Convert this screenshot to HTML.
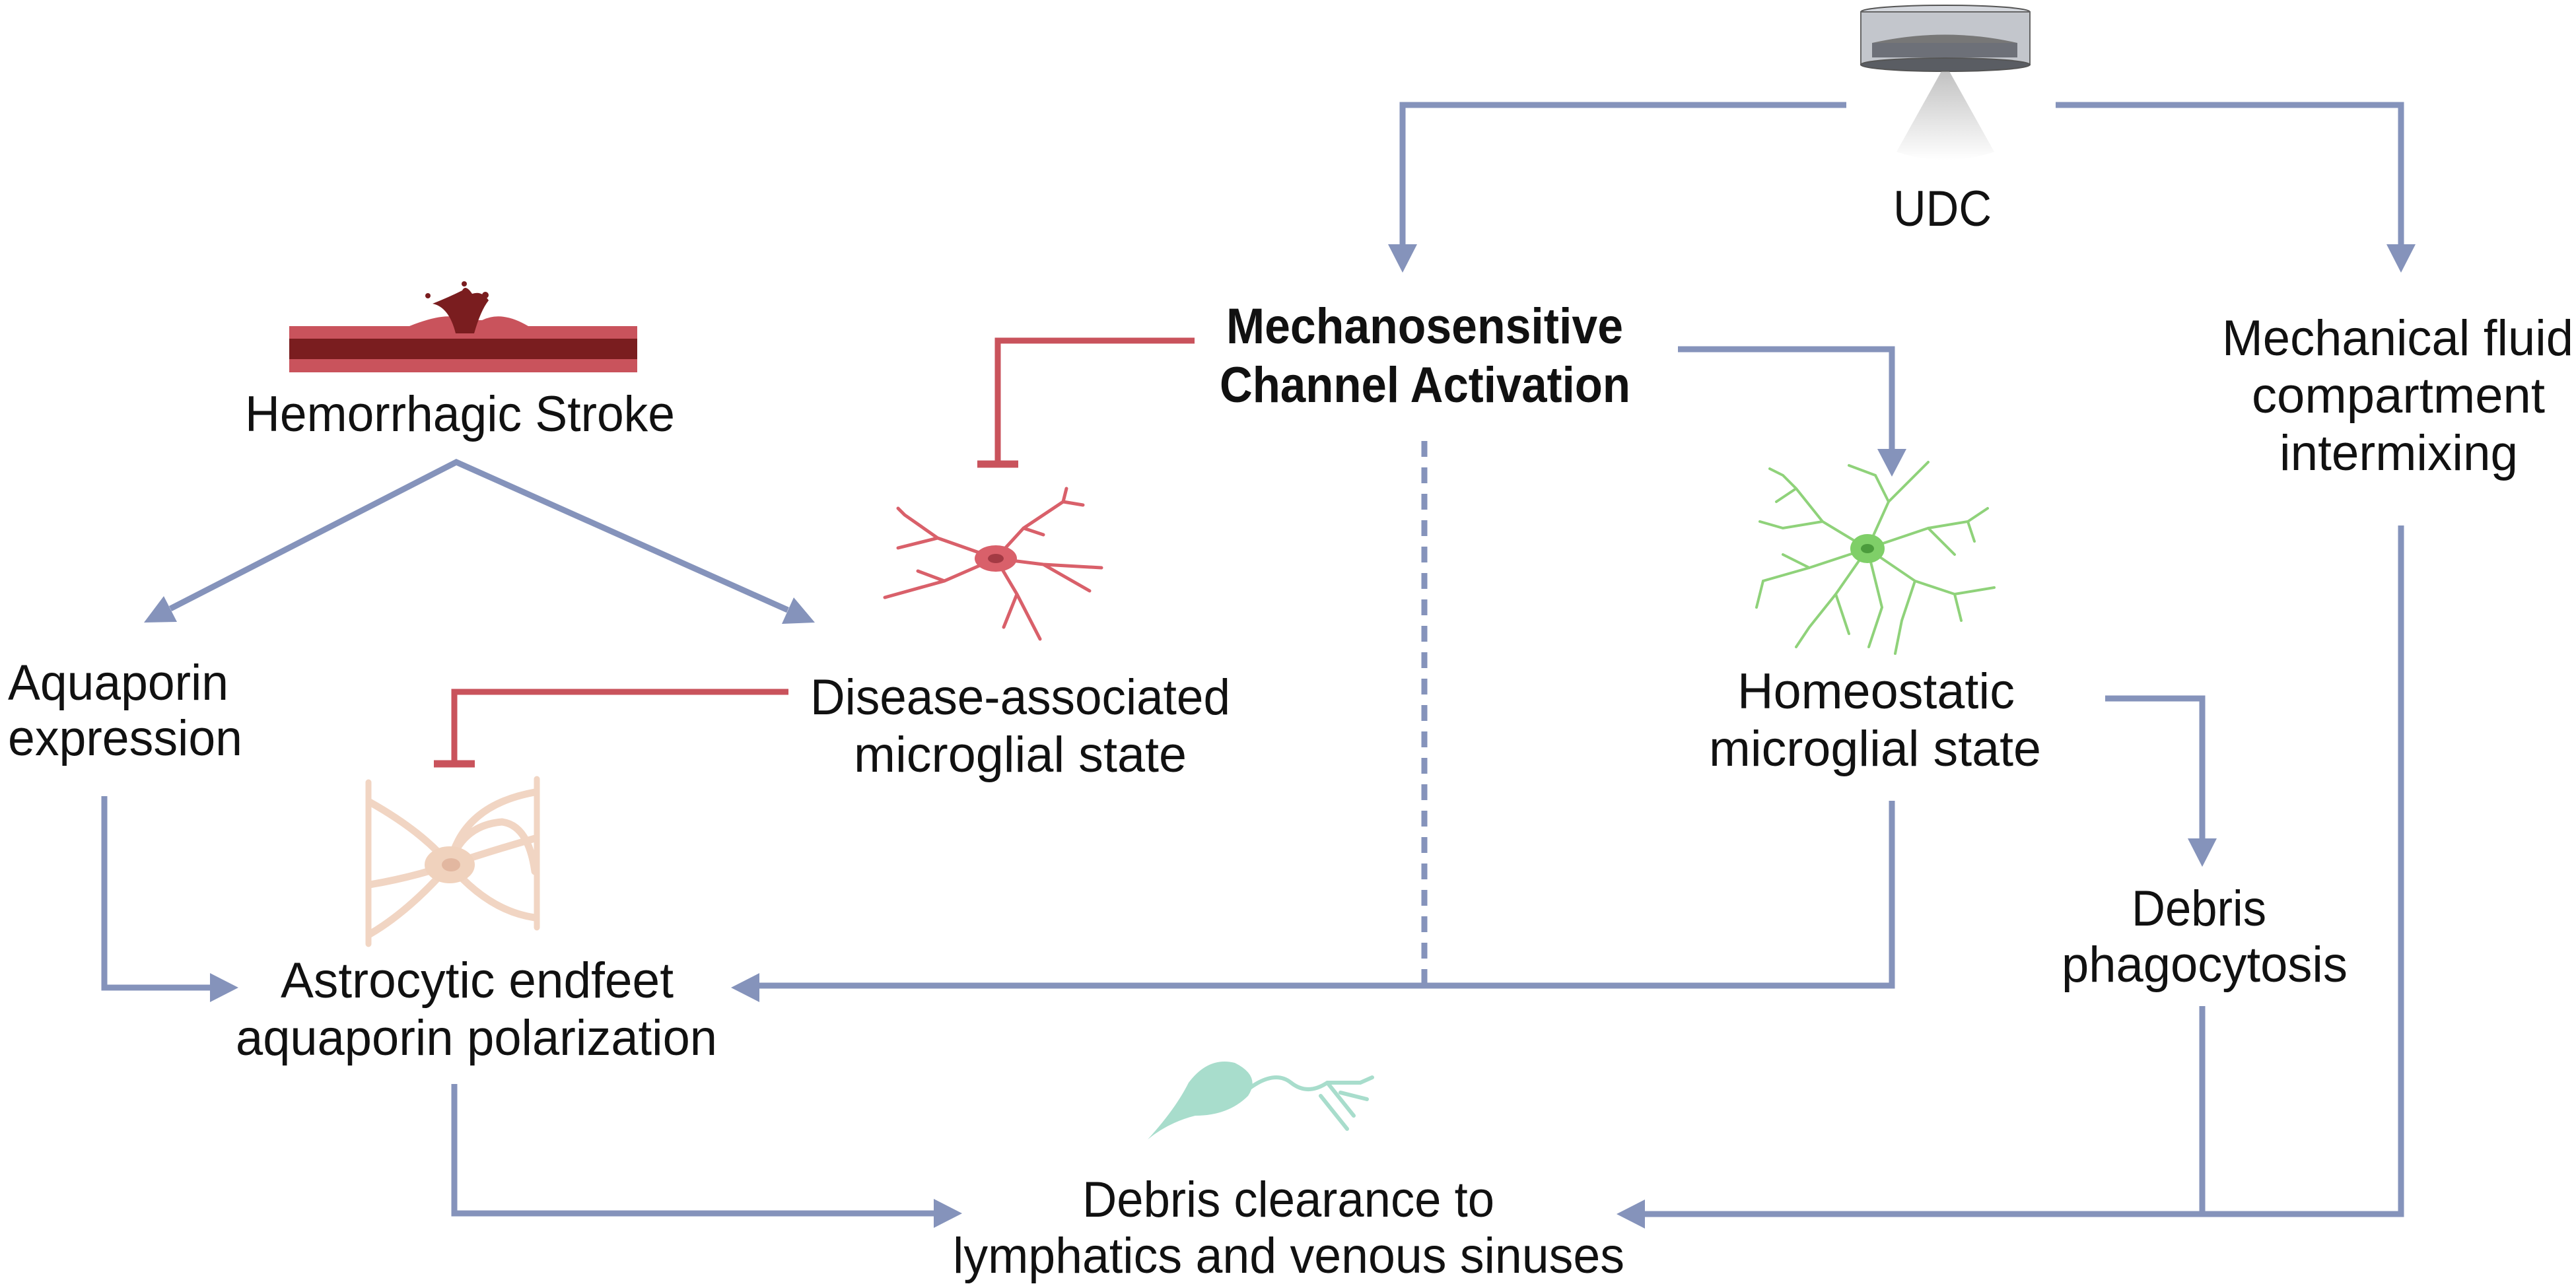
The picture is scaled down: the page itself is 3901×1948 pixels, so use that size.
<!DOCTYPE html>
<html><head><meta charset="utf-8"><style>
html,body{margin:0;padding:0;background:#fff}
svg{display:block}
text{font-family:"Liberation Sans",sans-serif;font-size:76px;fill:#111}
</style></head><body>
<svg width="3901" height="1948" viewBox="0 0 3901 1948" xmlns="http://www.w3.org/2000/svg">
<defs>
<linearGradient id="spray" x1="0" y1="0" x2="0" y2="1"><stop offset="0" stop-color="#999"/><stop offset="1" stop-color="#fff"/></linearGradient>
</defs>
<g fill="none" stroke="#8593bb" stroke-width="9">
<polyline points="258,922 691,700 1193,924"/>
<polyline points="2796,159 2124,159 2124,390"/>
<polyline points="3113,159 3636,159 3636,390"/>
<polyline points="2541,529 2865,529 2865,700"/>
<polyline points="2865,1213 2865,1493 1140,1493"/>
<line x1="2157" y1="668" x2="2157" y2="1493" stroke-dasharray="24,16"/>
<polyline points="3188,1058 3335,1058 3335,1290"/>
<line x1="3335" y1="1524" x2="3335" y2="1839"/>
<polyline points="3636,796 3636,1839 2480,1839"/>
<polyline points="158,1206 158,1496 330,1496"/>
<polyline points="688,1642 688,1838 1425,1838"/>
</g>
<g fill="#8593bb">
<polygon points="218,943 268,942 248,903"/>
<polygon points="1234,943 1184,945 1202,905"/>
<polygon points="2124,413 2102,370 2146,370"/>
<polygon points="3636,413 3614,370 3658,370"/>
<polygon points="2865,722 2843,680 2887,680"/>
<polygon points="3335,1313 3313,1270 3357,1270"/>
<polygon points="1107,1496 1150,1474 1150,1518"/>
<polygon points="361,1496 318,1474 318,1518"/>
<polygon points="1457,1838 1414,1816 1414,1860"/>
<polygon points="2448,1839 2491,1817 2491,1861"/>
</g>
<g fill="none" stroke="#c9535c" stroke-width="9">
<polyline points="1809,516 1511,516 1511,703"/>
<line x1="1480" y1="703" x2="1542" y2="703" stroke-width="11"/>
<polyline points="1194,1048 688,1048 688,1157"/>
<line x1="657" y1="1157" x2="719" y2="1157" stroke-width="11"/>
</g>
<rect x="438" y="494" width="527" height="70" fill="#c9535c"/>
<rect x="438" y="513" width="527" height="31" fill="#7a1d1f"/>
<path d="M620,494 Q680,470 700,485 L730,485 Q760,470 800,494 Z" fill="#c9535c"/>
<path d="M690,505 Q680,465 655,460 Q680,450 700,440 Q705,430 715,445 Q730,440 740,455 Q728,470 718,505 Z" fill="#7a1d1f"/>
<circle cx="703" cy="430" r="4" fill="#7a1d1f"/><circle cx="735" cy="447" r="5" fill="#7a1d1f"/><circle cx="648" cy="448" r="4" fill="#7a1d1f"/>
<ellipse cx="2946" cy="18" rx="128" ry="10" fill="#d5d8de" stroke="#555" stroke-width="2"/>
<rect x="2818" y="18" width="256" height="80" fill="#c3c6cc" stroke="#666" stroke-width="2"/>
<path d="M2835,65 Q2946,40 3055,65 Z" fill="#777"/>
<rect x="2835" y="65" width="220" height="22" fill="#6d7078"/>
<ellipse cx="2946" cy="98" rx="128" ry="10" fill="#5a5d63" stroke="#555" stroke-width="2"/>
<path d="M2940,108 L2952,108 L3020,230 Q2946,255 2872,230 Z" fill="url(#spray)" opacity="0.6"/>
<g stroke="#d9606a" stroke-width="5" fill="none" stroke-linecap="round">
<path d="M1508,846 L1420,815 L1370,780 M1420,815 L1360,830 M1508,846 L1430,880 L1340,905 M1430,880 L1390,865 M1508,846 L1550,800 L1610,760 L1615,740 M1550,800 L1580,810 M1508,846 L1580,855 L1668,860 M1580,855 L1650,895 M1508,846 L1540,900 L1575,968 M1540,900 L1520,950 M1370,780 L1360,770 M1610,760 L1640,765"/>
</g>
<ellipse cx="1508" cy="846" rx="32" ry="20" fill="#d9606a"/>
<ellipse cx="1508" cy="846" rx="12" ry="7" fill="#a33a44"/>
<g stroke="#8fd27a" stroke-width="4" fill="none" stroke-linecap="round">
<path d="M2828,831 L2760,790 L2720,740 L2700,720 M2760,790 L2700,800 L2665,790 M2828,831 L2740,860 L2670,880 L2660,920 M2740,860 L2700,840 M2828,831 L2780,900 L2740,950 L2720,980 M2780,900 L2800,960 M2828,831 L2860,760 L2900,720 L2920,700 M2860,760 L2840,720 L2800,705 M2828,831 L2920,800 L2980,790 L3010,770 M2920,800 L2960,840 M2828,831 L2900,880 L2960,900 L3020,890 M2900,880 L2880,940 L2870,990 M2828,831 L2850,920 L2830,980 M2700,720 L2680,710 M2720,740 L2690,760 M2980,790 L2990,820 M2960,900 L2970,940"/>
</g>
<ellipse cx="2828" cy="831" rx="26" ry="22" fill="#7fcf68"/>
<ellipse cx="2828" cy="831" rx="10" ry="7" fill="#4b9c3c"/>
<g stroke="#f1d5c3" stroke-width="11" fill="none" stroke-linecap="round">
<path d="M681,1310 Q640,1260 560,1215 M681,1310 Q620,1330 560,1340 M681,1310 Q620,1380 560,1415 M681,1310 Q700,1220 810,1200 M681,1310 Q740,1290 810,1270 M681,1310 Q740,1380 810,1390 M681,1310 Q700,1250 760,1245 Q800,1250 810,1320"/>
<path d="M558,1185 L558,1430 M813,1180 L813,1405" stroke-width="9"/>
</g>
<ellipse cx="681" cy="1310" rx="38" ry="28" fill="#f0d2bd"/>
<ellipse cx="683" cy="1310" rx="14" ry="10" fill="#e2b7a0"/>
<g fill="#a8ddcc"><path d="M1738,1726 Q1780,1680 1800,1640 Q1830,1600 1870,1610 Q1910,1630 1890,1660 Q1860,1690 1810,1690 Q1770,1700 1738,1726 Z"/></g>
<g stroke="#a8ddcc" stroke-width="6" fill="none" stroke-linecap="round">
<path d="M1890,1650 Q1930,1620 1955,1640 Q1980,1660 2010,1640 L2060,1640 M2010,1640 L2050,1690 M2030,1655 L2070,1665 M2000,1660 L2040,1710 M2060,1640 L2078,1632"/>
</g>
<text x="371" y="653" textLength="651" lengthAdjust="spacingAndGlyphs">Hemorrhagic Stroke</text>
<text x="12" y="1060" textLength="334" lengthAdjust="spacingAndGlyphs">Aquaporin</text>
<text x="12" y="1144" textLength="355" lengthAdjust="spacingAndGlyphs">expression</text>
<text x="1227" y="1082" textLength="636" lengthAdjust="spacingAndGlyphs">Disease-associated</text>
<text x="1293" y="1169" textLength="504" lengthAdjust="spacingAndGlyphs">microglial state</text>
<text x="425" y="1511" textLength="595" lengthAdjust="spacingAndGlyphs">Astrocytic endfeet</text>
<text x="357" y="1598" textLength="729" lengthAdjust="spacingAndGlyphs">aquaporin polarization</text>
<text x="1639" y="1843" textLength="624" lengthAdjust="spacingAndGlyphs">Debris clearance to</text>
<text x="1443" y="1928" textLength="1017" lengthAdjust="spacingAndGlyphs">lymphatics and venous sinuses</text>
<text x="1857" y="520" textLength="601" lengthAdjust="spacingAndGlyphs" font-weight="bold">Mechanosensitive</text>
<text x="1847" y="609" textLength="622" lengthAdjust="spacingAndGlyphs" font-weight="bold">Channel Activation</text>
<text x="2867" y="342" textLength="149" lengthAdjust="spacingAndGlyphs">UDC</text>
<text x="2631" y="1073" textLength="420" lengthAdjust="spacingAndGlyphs">Homeostatic</text>
<text x="2588" y="1160" textLength="503" lengthAdjust="spacingAndGlyphs">microglial state</text>
<text x="3228" y="1402" textLength="204" lengthAdjust="spacingAndGlyphs">Debris</text>
<text x="3122" y="1487" textLength="433" lengthAdjust="spacingAndGlyphs">phagocytosis</text>
<text x="3365" y="538" textLength="532" lengthAdjust="spacingAndGlyphs">Mechanical fluid</text>
<text x="3410" y="625" textLength="444" lengthAdjust="spacingAndGlyphs">compartment</text>
<text x="3452" y="712" textLength="361" lengthAdjust="spacingAndGlyphs">intermixing</text>
</svg>
</body></html>
